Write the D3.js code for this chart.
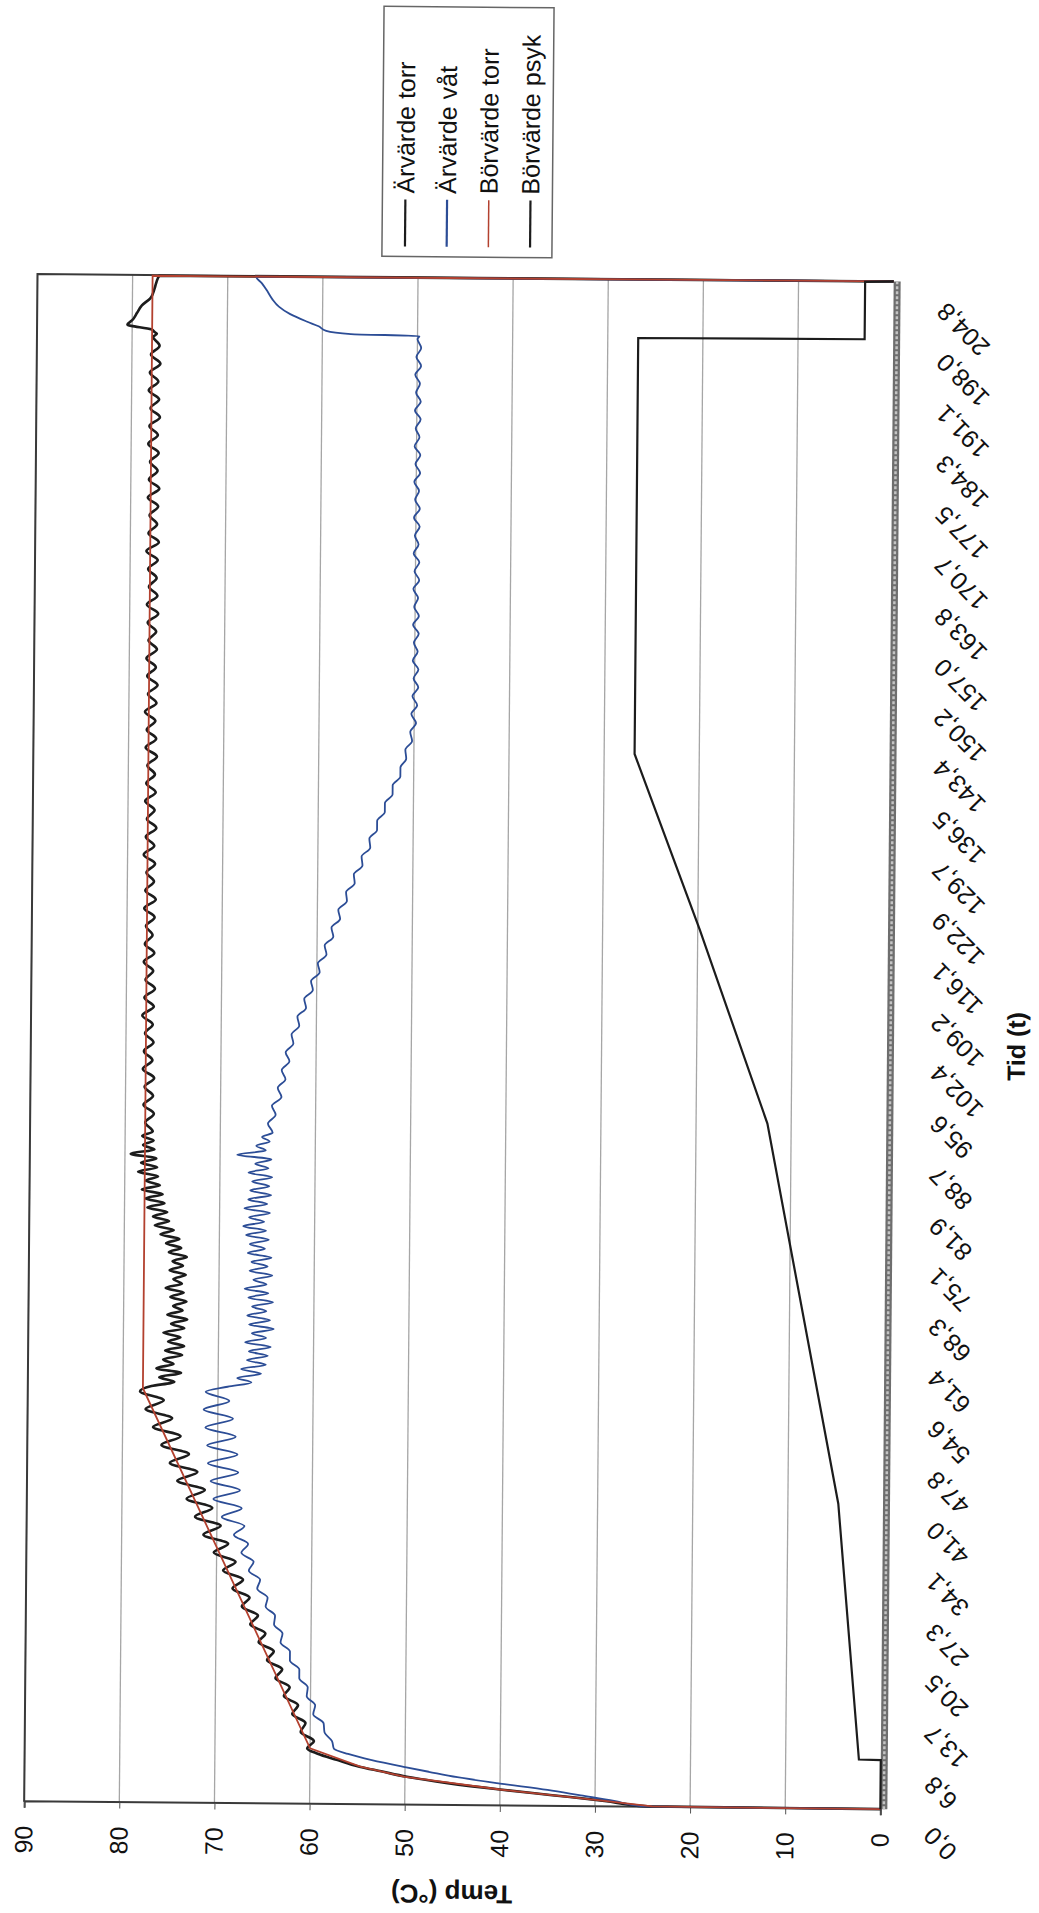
<!DOCTYPE html>
<html>
<head>
<meta charset="utf-8">
<script src="https://cdn.jsdelivr.net/npm/d3@7"></script>
<style>
  body { margin: 0; background: #fff; overflow: hidden; }
</style>
</head>
<body>
<script>
'use strict';

// tick labels
const tidLabels = ['0,0', '6,8', '13,7', '20,5', '27,3', '34,1', '41,0', '47,8', '54,6', '61,4',
  '68,3', '75,1', '81,9', '88,7', '95,6', '102,4', '109,2', '116,1', '122,9', '129,7', '136,5',
  '143,4', '150,2', '157,0', '163,8', '170,7', '177,5', '184,3', '191,1', '198,0', '204,8'];
const tempTicks = [0, 10, 20, 30, 40, 50, 60, 70, 80, 90];
const seriesNames = ['Ärvärde torr', 'Ärvärde våt', 'Börvärde torr', 'Börvärde psyk'];

const tid = [
  0, 0.1, 0.8, 1.5, 2.2, 3.0, 3.8, 4.5, 5.1, 6.0, 6.8, 7.5,
  8.5, 9.7, 10.9, 12.1, 13.3, 14.5, 15.7, 16.9, 18.1, 19.3,
  20.5, 21.7, 22.9, 24.1, 25.3, 26.5, 27.7, 28.9, 30.1, 31.3,
  32.5, 33.7, 34.9, 36.1, 37.3, 38.5, 39.7, 40.9, 42.1, 43.3,
  44.5, 45.7, 46.9, 48.1, 49.3, 50.5, 51.7, 52.9, 54.1, 55.3,
  56.0,
  56.6, 57.2, 57.8, 58.4, 59.0, 59.6, 60.2, 60.8, 61.4, 62.0,
  62.6, 63.2, 63.8, 64.4, 65.0, 65.6, 66.2, 66.8, 67.4, 68.0,
  68.6, 69.2, 69.8, 70.4, 71.0, 71.6, 72.2, 72.8, 73.4, 74.0,
  74.6, 75.2, 75.8, 76.4, 77.0, 77.6, 78.2, 78.8, 79.4, 80.0,
  80.6, 81.2, 81.8, 82.4, 83.0, 83.6, 84.2, 84.8, 85.4, 86.0,
  86.6, 87.2, 87.8, 88.4, 89.0, 89.6, 90.2,
  91.4, 92.6, 93.8, 95.0, 96.2, 97.4, 98.6, 99.8, 101.0, 102.2,
  103.4, 104.6, 105.8, 107.0, 108.2, 109.4, 110.6, 111.8, 113.0, 114.2,
  115.4, 116.6, 117.8, 119.0, 120.2, 121.4, 122.6, 123.8, 125.0, 126.2,
  127.4, 128.6, 129.8, 131.0, 132.2, 133.4, 134.6, 135.8, 137.0, 138.2,
  139.4, 140.6, 141.8, 143.0, 144.2, 145.4, 146.6, 147.8, 149.0, 150.2,
  151.4, 152.6, 153.8, 155.0, 156.2, 157.4, 158.6, 159.8, 161.0, 162.2,
  163.4, 164.6, 165.8, 167.0, 168.2, 169.4, 170.6, 171.8, 173.0, 174.2,
  175.4, 176.6, 177.8, 179.0, 180.2, 181.4, 182.6, 183.8, 185.0, 186.2,
  187.4, 188.6, 189.8, 191.0, 192.2, 193.4, 194.6, 195.8, 197.0,
  197.4, 197.6, 198.0, 198.6, 199.2, 200.2, 201.2, 202.2, 203.4, 204.3, 205.2, 205.3
];

const arTorr = [
  0, 24.5, 29, 34.5, 40, 45.5, 49.8, 52.5, 54.8, 57.2, 59.2, 60.3,
  59.6, 61.0, 60.5, 61.9, 61.3, 62.8, 62.2, 63.7, 63.0, 64.6,
  63.9, 65.5, 64.8, 66.4, 65.6, 67.3, 66.5, 68.3, 67.2, 69.3,
  68.0, 70.3, 68.8, 71.4, 69.6, 72.3, 70.5, 73.2, 71.3, 74.2,
  72.1, 75.0, 73.0, 75.9, 73.9, 76.8, 74.8, 77.6, 75.7, 78.2,
  77.0,
  74.6, 76.2, 73.9, 76.5, 74.7, 75.8, 73.8, 75.6, 73.6, 75.3,
  74.0, 75.8, 73.6, 75.0, 73.3, 75.4, 73.8, 74.8, 73.4, 75.1,
  73.7, 75.6, 73.9, 74.8, 73.5, 75.2, 73.8, 74.9, 73.4, 75.3,
  74.0, 75.6, 74.2, 76.2, 74.8, 76.8, 75.3, 77.0, 75.5, 77.6,
  75.8, 77.8, 76.0, 78.2, 76.3, 77.8, 76.5, 78.6, 76.6, 78.3,
  76.7, 79.4, 76.9, 78.1, 77.0, 78.2, 77.1,
  77.9, 77.0, 78.1, 77.1, 78.0, 77.0, 78.2, 77.2, 78.1, 77.1,
  78.0, 77.2, 78.3, 77.1, 78.1, 77.0, 78.0, 77.2, 78.2, 77.1,
  78.1, 77.3, 78.0, 77.1, 78.2, 77.0, 78.1, 77.2, 78.0, 77.1,
  78.3, 77.2, 78.1, 77.0, 78.0, 77.2, 78.2, 77.1, 78.1, 77.2,
  78.0, 77.0, 78.2, 77.1, 78.1, 77.2, 78.3, 77.1, 78.0, 77.0,
  78.1, 77.2, 78.2, 77.1, 78.0, 77.2, 78.1, 77.0, 78.2, 77.1,
  78.0, 77.2, 78.1, 77.1, 78.3, 77.0, 78.1, 77.2, 78.0, 77.1,
  78.2, 77.0, 78.1, 77.2, 78.0, 77.1, 78.2, 77.2, 78.1, 77.0,
  78.0, 77.1, 78.2, 77.2, 78.1, 77.0, 78.0, 77.1, 77.8,
  77.4, 77.6, 78.0, 80.5, 80.0, 79.5, 79.0, 78.1, 77.7, 77.5, 77.2, 0
];

const arVat = [
  0, 25, 28, 31.5, 35, 40, 44.5, 47.5, 50, 53.5, 56, 57.5,
  57.7, 58.5, 58.6, 59.7, 59.5, 60.4, 60.3, 61.2, 61.2, 62.2,
  62.2, 63.2, 63.0, 63.9, 63.8, 64.8, 64.6, 65.7, 65.4, 66.6,
  66.1, 67.4, 66.7, 68.2, 67.1, 69.5, 67.4, 70.4, 67.6, 70.7,
  67.8, 71.0, 67.9, 71.1, 68.1, 71.3, 68.4, 71.5, 68.8, 71.3,
  69.0,
  66.5, 68.0, 65.5, 67.6, 65.0, 67.0, 64.8, 66.8, 64.5, 67.2,
  65.0, 66.5, 64.2, 66.8, 64.6, 67.0, 65.0, 66.5, 64.3, 66.9,
  64.8, 67.3, 65.0, 66.4, 64.4, 66.8, 64.9, 66.6, 64.5, 67.0,
  65.2, 66.8, 64.8, 67.2, 65.1, 67.5, 65.3, 66.9, 64.7, 67.4,
  65.0, 67.0, 64.6, 66.8, 64.8, 66.6, 64.5, 67.0, 64.9, 66.3,
  64.6, 68.2, 65.2, 66.2, 64.8, 65.6, 64.5,
  65.0, 64.2, 64.6, 63.6, 64.0, 63.2, 63.6, 62.8, 63.2, 62.4,
  62.6, 61.8, 62.0, 61.1, 61.3, 60.4, 60.6, 59.7, 59.9, 59.0,
  59.2, 58.3, 58.5, 57.6, 57.8, 56.9, 57.0, 56.1, 56.2, 55.3,
  55.4, 54.5, 54.6, 53.8, 53.8, 53.0, 53.0, 52.2, 52.2, 51.4,
  51.4, 50.8, 50.9, 50.2, 50.4, 49.8, 50.3, 49.7, 50.2, 49.6,
  50.1, 49.6, 50.2, 49.7, 50.1, 49.6, 50.2, 49.6, 50.1, 49.7,
  50.2, 49.6, 50.1, 49.6, 50.2, 49.7, 50.1, 49.6, 50.2, 49.6,
  50.1, 49.7, 50.2, 49.6, 50.1, 49.6, 50.2, 49.7, 50.1, 49.6,
  50.2, 49.6, 50.1, 49.7, 50.2, 49.6, 50.1, 49.6, 50.0,
  49.8, 57.0, 59.6, 60.4, 61.6, 63.4, 64.6, 65.3, 65.9, 66.4, 67.0, 0
];

// setpoints: [time, value] breakpoints
const borTorr = [[0, 0], [0.1, 24], [0.8, 29], [2.2, 40], [3.8, 50], [5.1, 54.7], [7.5, 60],
  [55.7, 77.9], [205.2, 77.9], [205.3, 0]];
const borPsyk = [[0, 0], [6.6, 0], [6.65, 2.3], [41, 4.7], [92, 12.5], [118, 19.8], [141.5, 26.8],
  [197.4, 26.8], [197.5, 3.0], [205.2, 3.0], [205.3, 0]];

const W = 1039;
const H = 1913;
const font = 'Liberation Sans, Arial, sans-serif';
const colors = ['#1c1c1c', '#2c4d96', '#b3412f', '#1c1c1c'];

const svg = d3.select('body').append('svg').attr('width', W).attr('height', H);

// the chart is laid out landscape (1913 x 1039) and turned to portrait, slightly skewed like the scan
const chart = svg.append('g')
  .attr('transform', `rotate(0.5 460 1045) translate(0 ${H}) rotate(-90)`);

const x = d3.scaleLinear().domain([0, 205.3]).range([107.5, 1635.3]);
const y = d3.scaleLinear().domain([0, 90]).range([887, 30.8]);

// gridlines
chart.append('g').selectAll('line')
  .data(tempTicks.filter(d => d > 0))
  .join('line')
  .attr('x1', x(0)).attr('x2', x.range()[1])
  .attr('y1', d => y(d)).attr('y2', d => y(d))
  .attr('stroke', '#a6a6a6').attr('stroke-width', 1.3);

// plot frame (top and right sides)
chart.append('path')
  .attr('d', `M${x(0)},${y(90)}H${x.range()[1]}V${y(0)}`)
  .attr('fill', 'none').attr('stroke', '#3a3a3a').attr('stroke-width', 2);

// temperature axis
const yAxis = chart.append('g')
  .attr('transform', `translate(${x(0)},0)`)
  .call(d3.axisLeft(y).tickValues(tempTicks).tickSize(6).tickPadding(18).tickFormat(d3.format('d')));
yAxis.select('.domain').attr('stroke', '#3a3a3a').attr('stroke-width', 2);
yAxis.selectAll('.tick line').attr('stroke', '#555');
yAxis.selectAll('text').attr('font-size', 25).attr('font-family', font).attr('fill', '#111');

// time axis: heavy band of dense category ticks
chart.append('line')
  .attr('x1', x(0)).attr('x2', x.range()[1])
  .attr('y1', y(0) + 3.5).attr('y2', y(0) + 3.5)
  .attr('stroke', '#6e6e6e').attr('stroke-width', 7);
chart.append('line')
  .attr('x1', x(0)).attr('x2', x.range()[1])
  .attr('y1', y(0) + 3.5).attr('y2', y(0) + 3.5)
  .attr('stroke', '#c4c4c4').attr('stroke-width', 2.5)
  .attr('stroke-dasharray', '3 2');

const tidPos = tidLabels.map(s => +s.replace(',', '.'));
const xAxis = chart.append('g')
  .attr('transform', `translate(0,${y(0)})`)
  .call(d3.axisBottom(x).tickValues(tidPos).tickSize(0).tickFormat((d, i) => tidLabels[i]));
xAxis.select('.domain').remove();
xAxis.selectAll('text')
  .attr('x', 0).attr('y', 0).attr('dy', 0)
  .attr('text-anchor', 'end')
  .attr('transform', 'translate(-16,54) rotate(-45)')
  .attr('font-size', 25).attr('font-family', font).attr('fill', '#111');

// series
const line = d3.line().x(d => x(d[0])).y(d => y(d[1]));
const torrPts = tid.map((t, i) => [t, arTorr[i]]);
const vatPts = tid.map((t, i) => [t, arVat[i]]);

chart.append('path').datum(torrPts)
  .attr('d', line.curve(d3.curveMonotoneX))
  .attr('fill', 'none').attr('stroke', colors[0]).attr('stroke-width', 2.6);
chart.append('path').datum(vatPts)
  .attr('d', line.curve(d3.curveMonotoneX))
  .attr('fill', 'none').attr('stroke', colors[1]).attr('stroke-width', 1.8);
chart.append('path').datum(borTorr)
  .attr('d', line.curve(d3.curveLinear))
  .attr('fill', 'none').attr('stroke', colors[2]).attr('stroke-width', 1.8);
chart.append('path').datum(borPsyk)
  .attr('d', line.curve(d3.curveLinear))
  .attr('fill', 'none').attr('stroke', colors[3]).attr('stroke-width', 2.2);

// axis titles
chart.append('text')
  .text('Temp (°C)')
  .attr('transform', `translate(28,${(y(0) + y(90)) / 2}) rotate(-90)`)
  .attr('text-anchor', 'middle')
  .attr('font-size', 26).attr('font-weight', 'bold').attr('font-family', font).attr('fill', '#111');

chart.append('text')
  .text('Tid (t)')
  .attr('x', (x(0) + x.range()[1]) / 2).attr('y', 1025)
  .attr('text-anchor', 'middle')
  .attr('font-size', 25).attr('font-weight', 'bold').attr('font-family', font).attr('fill', '#111');

// legend
const legend = chart.append('g');
legend.append('rect')
  .attr('x', 1656).attr('y', 375).attr('width', 250).attr('height', 170)
  .attr('fill', '#fff').attr('stroke', '#666').attr('stroke-width', 1.5);
const rows = legend.selectAll('g.row')
  .data(seriesNames)
  .join('g')
  .attr('class', 'row')
  .attr('transform', (d, i) => `translate(1666,${398 + i * 41.7})`);
rows.append('line')
  .attr('x1', 0).attr('x2', 47)
  .attr('stroke', (d, i) => colors[i])
  .attr('stroke-width', (d, i) => (i === 2 ? 1.5 : 2.2));
rows.append('text')
  .text(d => d)
  .attr('x', 53).attr('dy', '0.35em')
  .attr('font-size', 25).attr('font-family', font).attr('fill', '#111');
</script>
</body>
</html>
